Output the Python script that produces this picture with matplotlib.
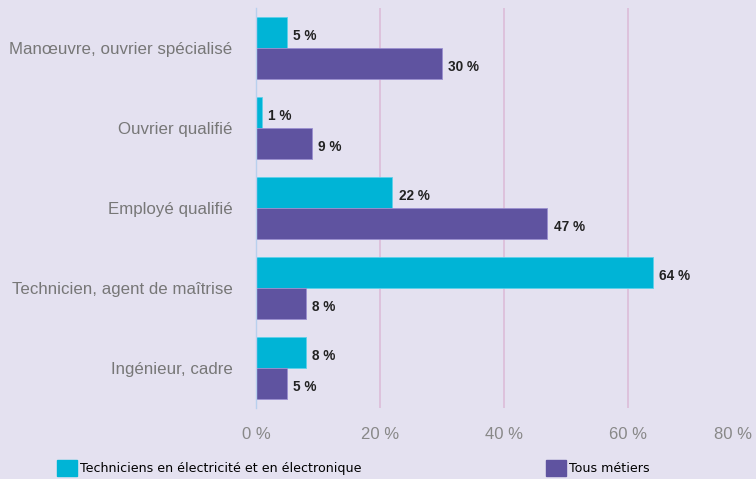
import matplotlib.pyplot as plt
import numpy as np
from matplotlib.patches import Patch

categories = ['Manœuvre, ouvrier spécialisé', 'Ouvrier qualifié', 'Employé qualifié',
              'Technicien, agent de maîtrise', 'Ingénieur, cadre']
techniciens = [5, 1, 22, 64, 8]
tous_metiers = [30, 9, 47, 8, 5]
ticks = [0, 20, 40, 60, 80]

bg = '#e4e1f0'
cyan = '#00b4d6'
purple = '#5f53a0'

fig = plt.figure(figsize=(7.56, 4.79), dpi=100, facecolor=bg)
ax = fig.add_axes([256 / 756, 1 - 408 / 479, (752 - 256) / 756, 400 / 479])
ax.set_facecolor(bg)

y = np.arange(len(categories))
h = 0.39
ax.barh(y - h / 2, techniciens, height=h, color=cyan, edgecolor='#5fd0ea', linewidth=0.6)
ax.barh(y + h / 2, tous_metiers, height=h, color=purple, edgecolor='#9a8fd0', linewidth=0.6)

for i in range(len(categories)):
    ax.text(techniciens[i] + 1.0, y[i] - h / 2 + 0.04, f'{techniciens[i]} %', va='center', ha='left',
            fontsize=9.8, fontweight='bold', color='#222222', family='Liberation Sans')
    ax.text(tous_metiers[i] + 1.0, y[i] + h / 2 + 0.04, f'{tous_metiers[i]} %', va='center', ha='left',
            fontsize=9.8, fontweight='bold', color='#222222', family='Liberation Sans')

ax.set_xlim(0, 80)
ax.set_ylim(4.5, -0.5)
ax.set_xticks(ticks)
ax.set_xticklabels([f'{t} %' for t in ticks], color='#888888', fontsize=12, family='Liberation Sans')
ax.get_xticklabels()[-1].set_horizontalalignment('right')
ax.set_yticks(y)
ax.set_yticklabels(categories, color='#777777', fontsize=12.2, family='Liberation Sans')
ax.tick_params(axis='y', length=0, pad=17)
ax.tick_params(axis='x', length=0, pad=14)
for t in ticks[1:-1]:
    ax.axvline(t, color='#dcbcd8', linewidth=1.2, zorder=0)
for s in ['top', 'right', 'bottom']:
    ax.spines[s].set_visible(False)
ax.spines['left'].set_color('#b8d0ee')
ax.spines['left'].set_linewidth(1)

fig.legend(handles=[Patch(color=cyan)], labels=['Techniciens en électricité et en électronique'],
           loc='center left', bbox_to_anchor=(46 / 756, 1 - 468 / 479), frameon=False,
           handlelength=1.55, handleheight=1.55, handletextpad=0.25, fontsize=9.1)
fig.legend(handles=[Patch(color=purple)], labels=['Tous métiers'],
           loc='center left', bbox_to_anchor=(535 / 756, 1 - 468 / 479), frameon=False,
           handlelength=1.55, handleheight=1.55, handletextpad=0.25, fontsize=9.1)

fig.savefig('out.png', dpi=100, facecolor=bg)
